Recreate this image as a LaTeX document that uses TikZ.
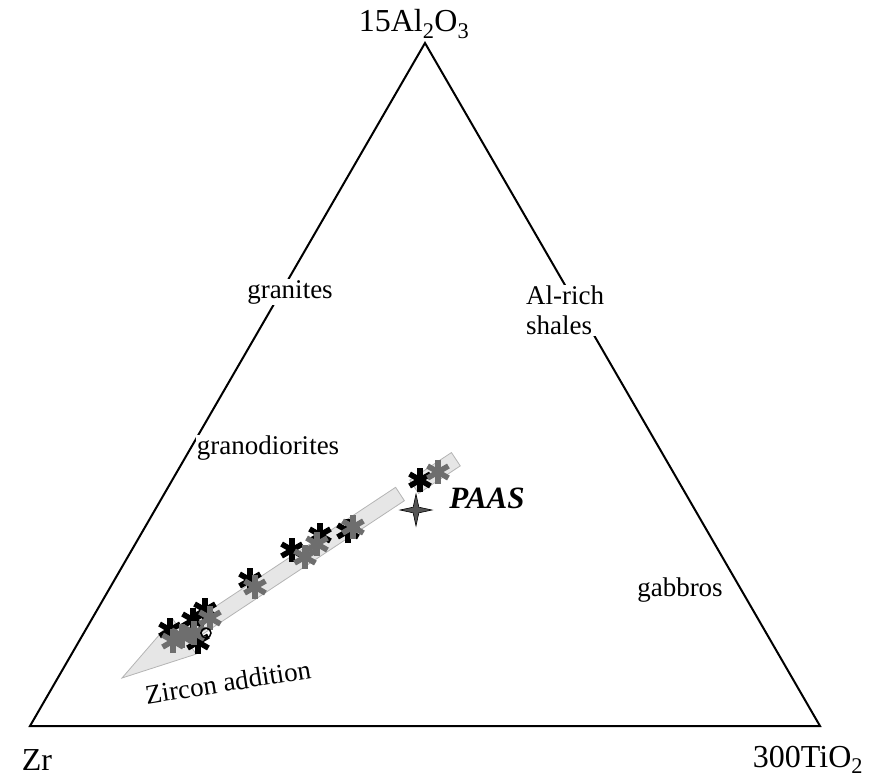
\documentclass[tikz,border=0pt]{standalone}
\usepackage{fontspec}
\setmainfont{Liberation Serif}
\usetikzlibrary{shapes.geometric}
\definecolor{bandgray}{HTML}{E6E6E6}
\definecolor{bandline}{HTML}{B4B4B4}
\definecolor{markgray}{HTML}{6E6E6E}
\definecolor{stargray}{HTML}{555555}
\tikzset{x=1pt,y=-1pt,
         rock/.style={fill=white,inner sep=1pt,font=\fontsize{27}{30}\selectfont},
         apex/.style={font=\fontsize{32}{34}\selectfont},
         band/.style={fill=bandgray,draw=bandline,line width=0.8pt},
         astmark/.pic={\foreach \a in {90,30,150}
                         \draw[line width=5.5pt] (\a:12) -- (\a+180:12);}}
\begin{document}
\begin{tikzpicture}
      \useasboundingbox (0,0) rectangle (880,777);
      % ternary frame
      \coordinate (zr) at (30,726);
      \coordinate (al) at (425,43);
      \coordinate (ti) at (820,726);
      \draw[line width=2pt] (zr) -- (al) -- (ti) -- cycle;
      % trend of zircon addition
      \coordinate (tip) at (122,678);
      \draw[band] (395.6,487.3) -- (180.1,629.9) -- (172.9,619.1) -- (tip)
                  -- (196.1,654.1) -- (188.9,643.3) -- (404.4,500.7) -- cycle;
      \node[band,rectangle,minimum width=50pt,minimum height=16pt,
            inner sep=0pt,rotate=33.45] (trendtop) at (435,473) {};
      % samples
      \foreach \p in {(250,580),(292,550),(320,535),(348,531),(420,480),
                      (205,610),(193,620),(170,630),(198,642)}
          \pic[black] at \p {astmark};
      \foreach \p in {(255,587),(305,557),(317,544),(353,527),(438,472),
                      (182,636),(173,641),(210,618),(194,633)}
          \pic[markgray] at \p {astmark};
      \draw[line width=1.5pt] (206,633) circle (5);
      \node[star,star points=4,star point ratio=4,minimum size=32pt,
            inner sep=0pt,fill=stargray,draw=black,line width=0.6pt] (paasstar) at (416,510) {};
      % labels
      \node[rock] (granites) at (290,292) {granites};
      \node[rock,anchor=west,align=left] (alshales) at (525,310) {Al-rich\\shales};
      \node[rock] (granodiorites) at (268,448) {granodiorites};
      \node[rock] (gabbros) at (680,590) {gabbros};
      \node[rock,fill=none,rotate=9] (zircon) at (228,682) {Zircon addition};
      \node[font=\fontsize{31}{33}\selectfont\bfseries\itshape] (paas) at (487,498) {PAAS};
      \node[apex] (allabel) at (414,24) {15Al\textsubscript{2}O\textsubscript{3}};
      \node[apex] (zrlabel) at (37,760) {Zr};
      \node[apex] (tilabel) at (808,760) {300TiO\textsubscript{2}};
\end{tikzpicture}
\end{document}
